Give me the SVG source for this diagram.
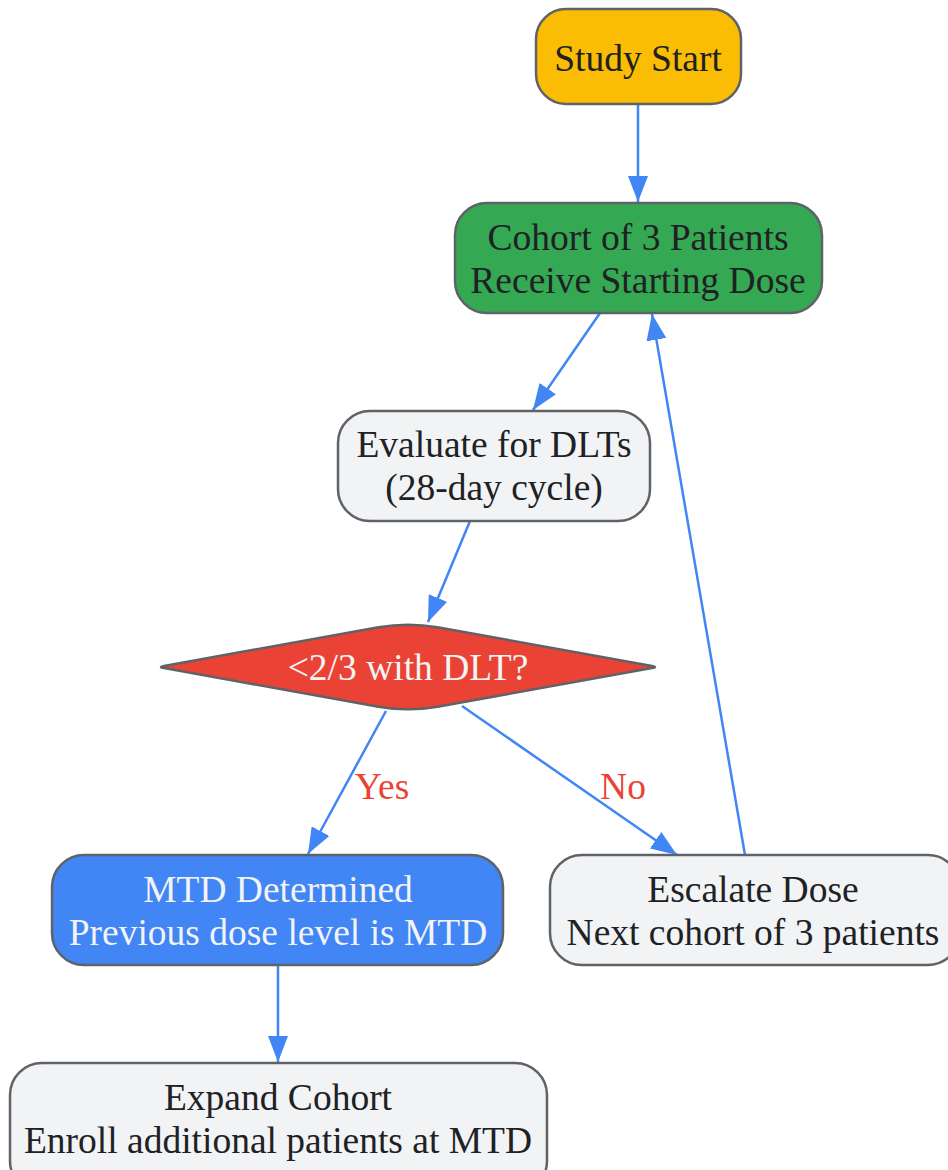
<svg xmlns="http://www.w3.org/2000/svg" width="948" height="1170" viewBox="0 0 948 1170">
<style>
.node{stroke:#5f6368;stroke-width:2.5}
.t{font-family:"Liberation Serif","Times New Roman",serif;font-size:37.5px;text-anchor:middle;fill:#202124}
.w{fill:#F1F3F4}
.lbl{font-family:"Liberation Serif","Times New Roman",serif;font-size:37.5px;text-anchor:middle;fill:#EA4335}
.e{stroke:#4285F4;stroke-width:2.5;fill:none;marker-end:url(#ah)}
</style>
<defs>
<marker id="ah" markerUnits="userSpaceOnUse" markerWidth="26" markerHeight="20" refX="26" refY="10" orient="auto" viewBox="0 0 26 20">
<path d="M0,0 L26,10 L0,20 z" fill="#4285F4"/>
</marker>
</defs>
<rect width="948" height="1170" fill="#ffffff"/>
<g id="connectors">
<line class="e" x1="638" y1="104" x2="638" y2="202"/>
<line class="e" x1="600" y1="313" x2="533" y2="410"/>
<line class="e" x1="470" y1="521" x2="428" y2="622"/>
<line class="e" x1="386" y1="711" x2="308" y2="854"/>
<line class="e" x1="462" y1="706" x2="677" y2="855"/>
<line class="e" x1="745" y1="855" x2="652" y2="314"/>
<line class="e" x1="278" y1="965" x2="278" y2="1062"/>
<text class="lbl" x="382" y="799">Yes</text>
<text class="lbl" x="623" y="799">No</text>
</g>
<g id="start">
<rect class="node" x="536" y="9" width="205" height="95" rx="30" fill="#FBBC04"/>
<text class="t" x="638" y="71">Study Start</text>
</g>
<g id="cohort">
<rect class="node" x="455" y="203" width="367" height="110" rx="32" fill="#34A853"/>
<text class="t" x="638" y="250">Cohort of 3 Patients</text>
<text class="t" x="638" y="293">Receive Starting Dose</text>
</g>
<g id="evaluate">
<rect class="node" x="338" y="411" width="312" height="110" rx="32" fill="#F1F3F4"/>
<text class="t" x="494" y="457">Evaluate for DLTs</text>
<text class="t" x="494" y="500">(28-day cycle)</text>
</g>
<g id="decision">
<path class="node" fill="#EA4335" d="M164,665.9 L378.5,627.3 Q408,622 437.5,627.3 L652,665.9 Q658,667 652,668.1 L437.5,706.7 Q408,712 378.5,706.7 L164,668.1 Q158,667 164,665.9 Z"/>
<text class="t w" x="408" y="680">&lt;2/3 with DLT?</text>
</g>
<g id="mtd">
<rect class="node" x="52" y="855" width="451" height="110" rx="32" fill="#4285F4"/>
<text class="t w" x="278" y="902">MTD Determined</text>
<text class="t w" x="278" y="945">Previous dose level is MTD</text>
</g>
<g id="escalate">
<rect class="node" x="550" y="855" width="410" height="110" rx="32" fill="#F1F3F4"/>
<text class="t" x="753" y="902">Escalate Dose</text>
<text class="t" x="753" y="945">Next cohort of 3 patients</text>
</g>
<g id="expand">
<rect class="node" x="10" y="1063" width="537" height="130" rx="32" fill="#F1F3F4"/>
<text class="t" x="278" y="1110">Expand Cohort</text>
<text class="t" x="278" y="1153">Enroll additional patients at MTD</text>
</g>
</svg>
